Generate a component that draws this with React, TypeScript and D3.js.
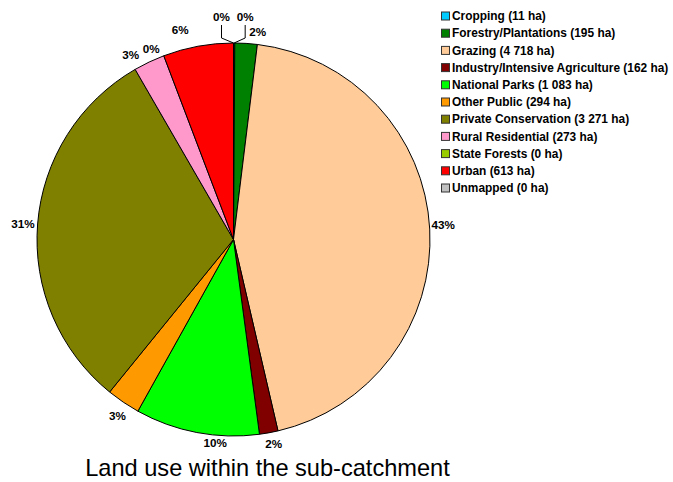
import React from "react";
import * as d3 from "d3";

const categories = [
  "Cropping",
  "Forestry/Plantations",
  "Grazing",
  "Industry/Intensive Agriculture",
  "National Parks",
  "Other Public",
  "Private Conservation",
  "Rural Residential",
  "State Forests",
  "Urban",
  "Unmapped",
];
const areas = [11, 195, 4718, 162, 1083, 294, 3271, 273, 0, 613, 0];
const areaLabels = ["11", "195", "4 718", "162", "1 083", "294", "3 271", "273", "0", "613", "0"];
const percentLabels = ["0%", "2%", "43%", "2%", "10%", "3%", "31%", "3%", "0%", "6%", "0%"];
const colors = [
  "#00CCFF",
  "#008000",
  "#FFCC99",
  "#800000",
  "#00FF00",
  "#FF9900",
  "#808000",
  "#FF99CC",
  "#99CC00",
  "#FF0000",
  "#C0C0C0",
];
const title = "Land use within the sub-catchment";

// layout tweaks for label placement (Excel-like collision avoidance)
const labelNudge: [number, number, boolean][] = [
  [11, -16, true],
  [11, -2, false],
  [0, -4, false],
  [3, 1, false],
  [21, 0, false],
  [0, 5, false],
  [-1, 1, false],
  [-14, 2, false],
  [-9, 2, false],
  [-16, -7, false],
  [-12, -16, true],
];

export default function App() {
  const W = 673;
  const H = 482;
  const cx = 225.5;
  const cy = 231.5;
  const r = 196.5;
  const pie = d3.pie<number>().sort(null).value((d) => d);
  const arcs = pie(areas);
  const arc = d3.arc<d3.PieArcDatum<number>>().innerRadius(0).outerRadius(r);
  const fs = 11.7;
  const lfs = 11.9;

  const labels = arcs.map((a, i) => {
    const mid = (a.startAngle + a.endAngle) / 2;
    const s = Math.sin(mid);
    const c = Math.cos(mid);
    const txt = percentLabels[i];
    const w = txt.length * 6.4;
    const h = 12;
    const R = r + 4;
    const px = R * s + (s * w) / 2;
    const py = -R * c - (c * h) / 2;
    const [dx, dy, leader] = labelNudge[i];
    return { x: px + dx, y: py + dy, txt, leader, ex: r * s, ey: -r * c, dx };
  });

  return (
    <svg width={W} height={H} style={{ position: "absolute", left: 0, top: 0 }}>
      <rect width={W} height={H} fill="#fff" />
      <g transform={`translate(${cx + 8},${cy + 8})`}>
        {arcs.map((a, i) =>
          a.endAngle - a.startAngle > 0 ? (
            <path key={i} d={arc(a) || ""} fill={colors[i]} stroke="#000" strokeWidth={1} />
          ) : null
        )}
        {labels.map((l, i) =>
          l.leader ? (
            <polyline
              key={"ld" + i}
              points={`${l.ex},${l.ey} ${l.x},${l.ey - 5} ${l.x},${l.y + 8}`}
              fill="none"
              stroke="#000"
              strokeWidth={1}
            />
          ) : null
        )}
        {labels.map((l, i) => (
          <text
            key={"t" + i}
            x={l.x}
            y={l.y}
            dy="0.36em"
            textAnchor="middle"
            fontFamily="Liberation Sans, Arial, sans-serif"
            fontWeight="bold"
            fontSize={fs}
            fill="#000"
          >
            {l.txt}
          </text>
        ))}
      </g>
      <g transform="translate(441,16)">
        {categories.map((c, i) => (
          <g key={c} transform={`translate(0,${i * 17.2})`}>
            <rect x={0.5} y={-4} width={8} height={8} fill={colors[i]} stroke="#333" strokeWidth={1} />
            <text
              x={11}
              y={0}
              dy="0.36em"
              fontFamily="Liberation Sans, Arial, sans-serif"
              fontWeight="bold"
              fontSize={lfs}
              fill="#000"
            >
              {`${c} (${areaLabels[i]} ha)`}
            </text>
          </g>
        ))}
      </g>
      <text
        x={267.5}
        y={476}
        textAnchor="middle"
        fontFamily="Liberation Sans, Arial, sans-serif"
        fontSize={23.6}
        fill="#000"
      >
        {title}
      </text>
    </svg>
  );
}
